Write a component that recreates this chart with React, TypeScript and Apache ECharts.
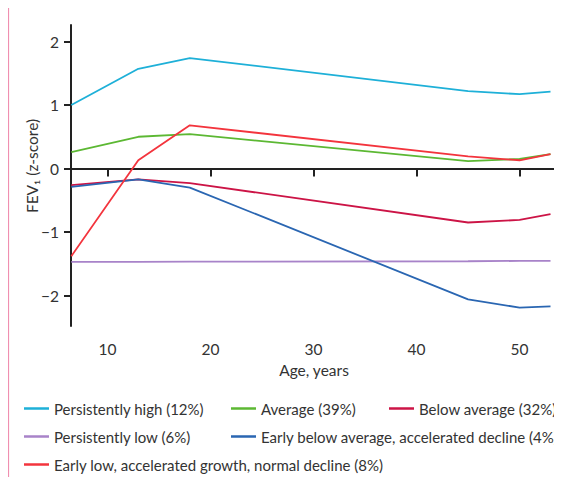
import React, { useEffect, useRef } from "react";
import * as echarts from "echarts";

const ages = [6.5, 13, 18, 45, 50, 53];
const seriesNames = [
  "Persistently high (12%)",
  "Average (39%)",
  "Below average (32%)",
  "Persistently low (6%)",
  "Early below average, accelerated decline (4%)",
  "Early low, accelerated growth, normal decline (8%)",
];
const persistentlyHigh = [1.0, 1.57, 1.74, 1.22, 1.17, 1.21];
const average = [0.26, 0.5, 0.54, 0.115, 0.15, 0.225];
const belowAverage = [-0.26, -0.17, -0.23, -0.85, -0.81, -0.72];
const persistentlyLow = [-1.47, -1.47, -1.467, -1.46, -1.455, -1.455];
const earlyBelowAverage = [-0.29, -0.17, -0.3, -2.06, -2.19, -2.17];
const earlyLow = [-1.38, 0.13, 0.68, 0.19, 0.13, 0.225];
const xTicks = [10, 20, 30, 40, 50];
const yTicks = [-2, -1, 0, 1, 2];

const colors = ["#1eb0d8", "#5cb833", "#cc1446", "#a883c9", "#2a66b2", "#f3343d"];
const allValues = [persistentlyHigh, average, belowAverage, persistentlyLow, earlyBelowAverage, earlyLow];

const FONT = "Lato";
const FS = 15.5;
const LFS = 15;
const TXT = "#333";

export default function App() {
  const ref = useRef<HTMLDivElement>(null);
  useEffect(() => {
    const chart = echarts.init(ref.current!, null, { renderer: "svg" });
    const legendPos = [
      { left: 24, top: 401 },
      { left: 231, top: 401 },
      { left: 389, top: 401 },
      { left: 24, top: 429 },
      { left: 231, top: 429 },
      { left: 24, top: 457 },
    ];
    chart.setOption({
      animation: false,
      textStyle: { fontFamily: FONT },
      grid: { left: 71, right: 5, top: 25, bottom: 159 },
      xAxis: {
        type: "value",
        min: 6.47,
        max: 53.63,
        name: "Age, years",
        nameLocation: "middle",
        nameGap: 36,
        nameTextStyle: { fontSize: FS, color: TXT, fontFamily: FONT },
        axisLine: { show: true, lineStyle: { color: "#222", width: 2 } },
        axisTick: { show: true, length: 8, lineStyle: { color: "#222", width: 2 }, customValues: xTicks },
        axisLabel: { customValues: xTicks, fontSize: FS, color: TXT, margin: 15, fontFamily: FONT },
        splitLine: { show: false },
      },
      yAxis: {
        type: "value",
        min: -2.48,
        max: 2.26,
        axisLine: { show: true, lineStyle: { color: "#222", width: 2 } },
        axisTick: { show: true, length: 7, lineStyle: { color: "#222", width: 2 }, customValues: yTicks },
        axisLabel: {
          customValues: yTicks,
          fontSize: FS,
          color: TXT,
          margin: 12,
          fontFamily: FONT,
          formatter: (v: number) => String(v).replace("-", "\u2212"),
        },
        splitLine: { show: false },
      },
      legend: seriesNames.map((n, i) => ({
        data: [n],
        left: legendPos[i].left,
        top: legendPos[i].top,
        padding: 0,
        icon: "rect",
        itemWidth: 25,
        itemHeight: 2.5,
        textStyle: { fontSize: LFS, color: TXT, fontFamily: FONT },
        selectedMode: false,
      })),
      graphic: [
        { type: "line", shape: { x1: 8.5, y1: 7, x2: 8.5, y2: 485 }, style: { stroke: "#f08fb0", lineWidth: 1.2 } },
        {
          type: "text",
          x: 32,
          y: 166,
          rotation: Math.PI / 2,
          style: { text: "FEV\u2081 (z-score)", fontSize: FS, fill: TXT, fontFamily: FONT, align: "center", verticalAlign: "middle" },
        },
      ],
      series: seriesNames.map((n, i) => ({
        name: n,
        type: "line",
        data: ages.map((a, j) => [a, allValues[i][j]]),
        showSymbol: false,
        symbol: "none",
        lineStyle: { color: colors[i], width: 1.8 },
        itemStyle: { color: colors[i] },
        z: 2 + i,
        markLine:
          i === 0
            ? {
                silent: true,
                symbol: "none",
                label: { show: false },
                lineStyle: { color: "#222", type: [3, 2.5], width: 2 },
                data: [{ yAxis: 0 }],
              }
            : undefined,
      })),
    });
    return () => chart.dispose();
  }, []);
  return <div ref={ref} style={{ width: 562, height: 485, margin: -8 }} />;
}
